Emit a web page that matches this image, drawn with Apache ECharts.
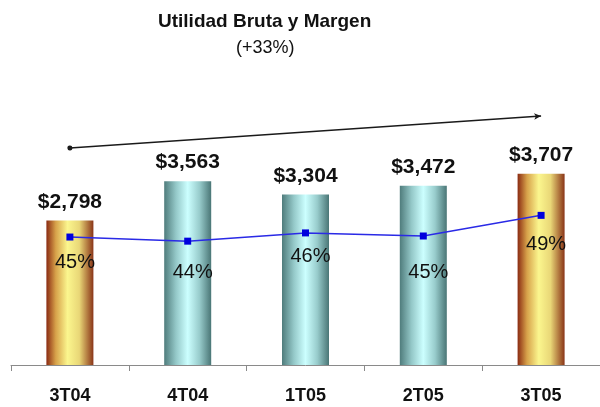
<!DOCTYPE html>
<html>
<head>
<meta charset="utf-8">
<script src="https://cdn.jsdelivr.net/npm/echarts@6/dist/echarts.min.js"></script>
<style>
  html, body { margin: 0; padding: 0; background: #fff; }
  #chart { width: 600px; height: 407px; }
</style>
</head>
<body>
<div id="chart"></div>
<script>
// data
var quarters = ['3T04', '4T04', '1T05', '2T05', '3T05'];
var utilidad = [2798, 3563, 3304, 3472, 3707];
var margen = [44.8, 44.0, 45.6, 45.0, 49.0];
// trend arrow, start / end level on the bar scale
var trend = [4205, 4826];

var chart = echarts.init(document.getElementById('chart'));

var font = '"Liberation Sans", Arial, sans-serif';

function barFill(gold) {
  var stops = gold
    ? [{offset: 0, color: '#8a2a12'}, {offset: 0.2, color: '#d7a24a'}, {offset: 0.45, color: '#fbf68e'},
       {offset: 0.7, color: '#e9d777'}, {offset: 1, color: '#8a3518'}]
    : [{offset: 0, color: '#4f7c7c'}, {offset: 0.25, color: '#94c8c8'}, {offset: 0.5, color: '#ccffff'},
       {offset: 0.75, color: '#98cccc'}, {offset: 1, color: '#4a7676'}];
  return new echarts.graphic.LinearGradient(0, 0, 1, 0, stops);
}

// small vertical nudge of each % label under its marker
var pctDy = [25, 31, 24, 36, 29];

var option = {
  animation: false,
  backgroundColor: '#fff',
  graphic: [
    {
      type: 'text', left: 158, top: 12,
      style: {text: 'Utilidad Bruta y Margen', font: 'bold 19px ' + font, fill: '#111'}
    },
    {
      type: 'text', left: 236, top: 39,
      style: {text: '(+33%)', font: '18px ' + font, fill: '#111'}
    }
  ],
  grid: {left: 11, width: 595, top: 107, bottom: 42},
  xAxis: {
    type: 'category',
    data: quarters,
    axisLine: {lineStyle: {color: '#8a8a8a', width: 1}},
    axisTick: {show: true, length: 6, lineStyle: {color: '#8a8a8a'}},
    axisLabel: {
      margin: 22,
      fontFamily: font, fontWeight: 'bold', fontSize: 18, color: '#111'
    }
  },
  yAxis: [
    {type: 'value', min: 0, max: 5000, show: false, splitLine: {show: false}},
    {type: 'value', min: 20, max: 70, show: false, splitLine: {show: false}}
  ],
  series: [
    {
      name: 'Utilidad Bruta',
      type: 'bar',
      barWidth: 47,
      data: utilidad.map(function (v, i) {
        return {value: v, itemStyle: {color: barFill(i === 0 || i === utilidad.length - 1)}};
      }),
      label: {
        show: true,
        position: 'top',
        distance: 8,
        fontFamily: font, fontWeight: 'bold', fontSize: 21, color: '#111',
        formatter: function (p) {
          return '$' + p.value.toLocaleString('en-US');
        }
      },
      markLine: {
        silent: true,
        symbol: ['circle', 'arrow'],
        symbolSize: [5, 7],
        label: {show: false},
        lineStyle: {color: '#1a1a1a', width: 1.5, type: 'solid'},
        data: [[
          {coord: [quarters[0], trend[0]]},
          {coord: [quarters[quarters.length - 1], trend[1]]}
        ]]
      }
    },
    {
      name: 'Margen',
      type: 'line',
      yAxisIndex: 1,
      symbol: 'rect',
      symbolSize: 7,
      lineStyle: {color: '#2a2ae6', width: 1.5},
      itemStyle: {color: '#0000dd'},
      data: margen.map(function (v, i) {
        return {value: v, label: {offset: [5, pctDy[i]]}};
      }),
      label: {
        show: true,
        position: 'inside',
        fontFamily: font, fontSize: 20, color: '#111',
        formatter: function (p) {
          return Math.round(p.value) + '%';
        }
      }
    }
  ]
};

chart.setOption(option);
</script>
</body>
</html>
